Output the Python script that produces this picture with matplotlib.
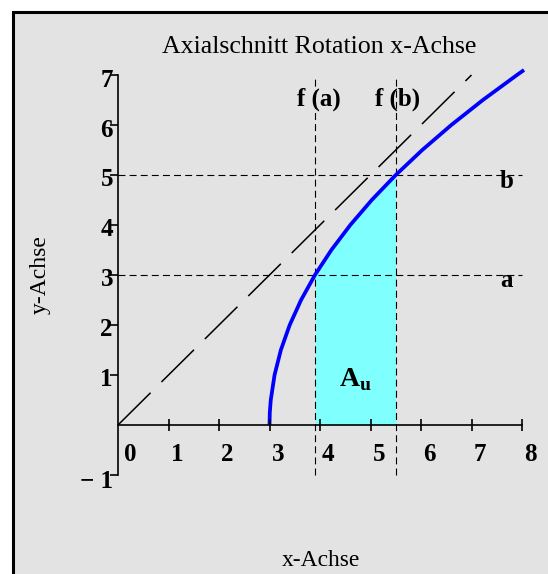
import matplotlib
matplotlib.use("Agg")
import matplotlib.pyplot as plt
from matplotlib.patches import Rectangle
import numpy as np

plt.rcParams['mathtext.fontset'] = 'custom'
plt.rcParams['mathtext.rm'] = 'Liberation Serif'
plt.rcParams['mathtext.bf'] = 'Liberation Serif:bold'
plt.rcParams['lines.scale_dashes'] = False

# ---------------- data ----------------
title = "Axialschnitt Rotation x-Achse"
xlabel = "x-Achse"
ylabel = "y-Achse"
x_ticks = [0, 1, 2, 3, 4, 5, 6, 7, 8]
y_ticks = [-1, 1, 2, 3, 4, 5, 6, 7]
y_tick_labels = ["\u2212 1", "1", "2", "3", "4", "5", "6", "7"]

# blue curve
curve_y = [0.0, 0.25, 0.5, 1.0, 1.5, 2.0, 2.5, 3.0, 3.5, 4.0, 4.5, 5.0, 5.5, 6.0, 6.5, 7.0, 7.1]
curve_x = [3.0, 3.006, 3.025, 3.1, 3.225, 3.4, 3.625, 3.9, 4.225, 4.6, 5.025, 5.5, 6.025, 6.6, 7.225, 7.9, 8.04]

# dashed diagonal y = x
diag_x = [0, 7]
diag_y = [0, 7]

a_val, b_val = 3, 5
fa_val, fb_val = 3.9, 5.5

# ---------------- figure ----------------
W, H = 548, 574
fig = plt.figure(figsize=(W / 100, H / 100), dpi=100)
fig.patch.set_facecolor('white')

ax = fig.add_axes([0, 0, 1, 1])
ppx, ppy = 50.5, 50.0   # pixels per unit
x0px, y0px = 118, 425
ax.set_xlim(-x0px / ppx, (W - x0px) / ppx)
ax.set_ylim(-(H - y0px) / ppy, y0px / ppy)
ax.axis('off')

# grey panel with black frame
ax.add_patch(Rectangle((12.5 / W, -0.05), 1.2, (H - 11.5) / H + 0.05,
                       transform=fig.transFigure, facecolor='#e3e3e3',
                       edgecolor='black', linewidth=2.2, zorder=0, clip_on=False))


def fx(px):
    return px / W


def fy(py):
    return 1 - py / H


serif = 'Liberation Serif'

# fill area under curve between f(a) and f(b)
cy = np.array(curve_y)
cx = np.array(curve_x)
m = cy <= b_val
ax.fill_betweenx(cy[m], np.maximum(cx[m], fa_val), fb_val, color='#80ffff', lw=0, zorder=1)

# thin dashed guide lines
dash_kw = dict(color='black', lw=0.8, dashes=(5, 3), zorder=2)
ax.plot([x_ticks[0], x_ticks[-1]], [a_val, a_val], **dash_kw)
ax.plot([x_ticks[0], x_ticks[-1]], [b_val, b_val], **dash_kw)
ax.plot([fa_val, fa_val], [y_ticks[0], y_ticks[-1]], **dash_kw)
ax.plot([fb_val, fb_val], [y_ticks[0], y_ticks[-1]], **dash_kw)

# diagonal
ax.plot(diag_x, diag_y, color='black', lw=1.1, dashes=(33, 11), zorder=3)

# curve
ax.plot(curve_x, curve_y, color='#0000ff', lw=2.7, zorder=4, solid_capstyle='butt')

# axes lines
ax.plot([x_ticks[0], x_ticks[-1]], [0, 0], color='black', lw=1.2, zorder=5)
ax.plot([0, 0], [y_ticks[0], y_ticks[-1]], color='black', lw=1.2, zorder=5)
ax.plot(x_ticks[1:], [0] * (len(x_ticks) - 1), ls='none', marker='|', ms=8.6, mew=1.2,
        color='black', zorder=5)
ax.plot([0] * len(y_ticks), y_ticks, ls='none', marker=0, ms=5.8, mew=1.2,
        color='black', zorder=5)

# tick labels
for t in x_ticks:
    dx = 8.5 if t == 0 else 6.0
    ax.annotate(str(t), (t, 0), xytext=(dx, -21.0), textcoords='offset points',
                ha='center', va='center', fontsize=18, fontweight='bold', family=serif)
for t, lab in zip(y_ticks, y_tick_labels):
    if t < 0:
        off = (-3.6, -5.0)
    else:
        off = (-3.6, -3.6)
    ax.annotate(lab, (0, t), xytext=off, textcoords='offset points',
                ha='right', va='center', fontsize=18, fontweight='bold', family=serif)

# labels a, b, f(a), f(b)
ax.annotate('b', (7.7, b_val), xytext=(0, -9.4), textcoords='offset points',
            ha='center', va='baseline', fontsize=18, fontweight='bold', family=serif)
ax.annotate('a', (7.7, a_val), xytext=(0, -8.7), textcoords='offset points',
            ha='center', va='baseline', fontsize=18, fontweight='bold', family=serif)
ax.annotate('f (a)', (fa_val, y_ticks[-1]), xytext=(2.5, -22), textcoords='offset points',
            ha='center', va='baseline', fontsize=18, fontweight='bold', family=serif)
ax.annotate('f (b)', (fb_val, y_ticks[-1]), xytext=(1.5, -22), textcoords='offset points',
            ha='center', va='baseline', fontsize=18, fontweight='bold', family=serif)
ax.annotate(r'$\mathbf{A}_{\mathbf{u}}$', ((fa_val + fb_val) / 2, 1), xytext=(0, -3),
            textcoords='offset points', ha='center', va='center', fontsize=20)

# titles
fig.text(fx(319.5), fy(53), title, ha='center', va='baseline', fontsize=18.6, family=serif)
fig.text(fx(321), fy(566), xlabel, ha='center', va='baseline', fontsize=16.9, family=serif)
fig.text(fx(40), fy(275), ylabel, ha='center', va='center', rotation=90, fontsize=17,
         family=serif)

fig.savefig('out.png', dpi=100, facecolor='white')
